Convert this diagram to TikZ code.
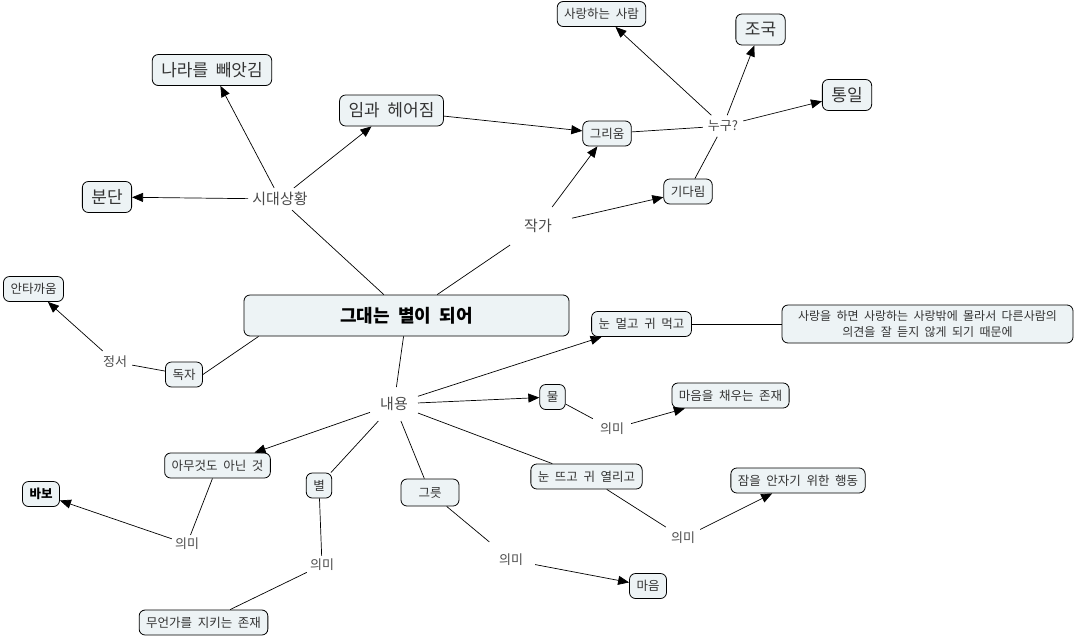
\documentclass[tikz,border=0pt]{standalone}
\usepackage{fontspec}
\setmainfont{Noto Sans CJK KR}[WordSpace=2]
\usepackage{xcolor}
\usetikzlibrary{arrows.meta}
\definecolor{boxfill}{HTML}{EDF3F5}
\definecolor{textdark}{HTML}{333333}
\definecolor{textgray}{HTML}{4A4A4A}

\tikzset{
    concept/.style={draw=black, line width=0.8pt, fill=boxfill, rounded corners=6pt,
        text=textdark, inner xsep=7pt, inner ysep=0pt, minimum height=25pt,
        font=\fontsize{12.5}{15}\selectfont},
    bigconcept/.style={concept, inner xsep=9pt, minimum height=31pt,
        font=\fontsize{17}{20}\selectfont},
    link/.style={text=textgray, inner sep=4pt, font=\fontsize{15}{18}\selectfont},
    smalllink/.style={link, inner sep=5pt, font=\fontsize{13}{16}\selectfont},
    conn/.style={line width=0.7pt},
    arr/.style={conn, -{Triangle[length=11pt,width=9pt]}}
}

\begin{document}
\begin{tikzpicture}[x=1pt, y=-1pt]
    \fill[white] (0,0) rectangle (1076,638);
    \useasboundingbox (0,0) rectangle (1076,638);

    \node[concept, minimum width=325pt, minimum height=41pt, text=black,
        font=\fontsize{18}{20}\selectfont\bfseries] (root) at (406.5,315.5) {그대는 별이 되어};

    \node[link] (era) at (280,199) {시대상황};
    \node[bigconcept] (nation) at (212,70) {나라를 빼앗김};
    \node[bigconcept] (division) at (107,197) {분단};
    \node[bigconcept] (parting) at (391.5,110.5) {임과 헤어짐};

    \node[link, inner xsep=20pt, inner ysep=12pt] (writer) at (538,226) {작가};
    \node[concept] (longing) at (607,133.5) {그리움};
    \node[concept] (waiting) at (688,191.5) {기다림};
    \node[smalllink] (who) at (723,126) {누구?};
    \node[concept] (lover) at (601.5,14) {사랑하는 사람};
    \node[bigconcept] (homeland) at (760.5,29.5) {조국};
    \node[bigconcept] (unity) at (847,95) {통일};

    \node[concept] (reader) at (184,374.5) {독자};
    \node[smalllink] (mood) at (115,362) {정서};
    \node[concept] (pity) at (33.5,289) {안타까움};

    \node[link, inner sep=10pt] (content) at (394,404) {내용};
    \node[concept] (blind) at (641.5,324) {눈 멀고 귀 먹고};
    \node[concept, align=center, minimum width=291pt, minimum height=38pt,
        font=\fontsize{12}{16}\selectfont] (note) at (927.5,324)
        {사랑을 하면 사랑하는 사랑밖에 몰라서 다른사람의\\의견을 잘 듣지 않게 되기 때문에};
    \node[concept] (water) at (552.5,397) {물};
    \node[smalllink, inner sep=7pt] (meanwater) at (612,429) {의미};
    \node[concept] (filling) at (730.5,395.5) {마음을 채우는 존재};
    \node[concept] (nothing) at (217.5,465.5) {아무것도 아닌 것};
    \node[smalllink, inner sep=3pt] (meannothing) at (187,544) {의미};
    \node[concept, font=\fontsize{12.5}{15}\selectfont\bfseries, text=black] (fool) at (41,494) {바보};
    \node[concept] (star) at (319,485.5) {별};
    \node[smalllink, inner sep=3pt] (meanstar) at (322,565) {의미};
    \node[concept] (guard) at (203.5,622.5) {무언가를 지키는 존재};
    \node[concept, minimum width=58pt, minimum height=27pt] (bowl) at (430,492.5) {그릇};
    \node[smalllink, inner sep=12pt] (meanbowl) at (511,560) {의미};
    \node[concept] (heart) at (648,586) {마음};
    \node[concept] (awake) at (586.5,476.5) {눈 뜨고 귀 열리고};
    \node[smalllink] (meanawake) at (683,538) {의미};
    \node[concept] (sleepless) at (798,480.5) {잠을 안자기 위한 행동};

    \draw[conn] (root) -- (era);
    \draw[arr] (era) -- (nation);
    \draw[arr] (era) -- (division);
    \draw[arr] (era) -- (parting);
    \draw[arr] (parting) -- (longing);

    \draw[conn] (root) -- (writer);
    \draw[arr] (writer) -- (longing);
    \draw[arr] (writer) -- (waiting);
    \draw[conn] (longing) -- (who);
    \draw[conn] (waiting) -- (who);
    \draw[arr] (who) -- (lover);
    \draw[arr] (who) -- (homeland);
    \draw[arr] (who) -- (unity);

    \draw[conn] ([xshift=15pt]root.south west) -- (reader.east);
    \draw[conn] (reader) -- (mood);
    \draw[arr] (mood) -- (pity);

    \draw[conn] (root) -- (content);
    \draw[arr] (content) -- (blind);
    \draw[conn] (blind) -- (note);
    \draw[arr] (content) -- (water);
    \draw[conn] (water) -- (meanwater);
    \draw[arr] (meanwater) -- (filling);
    \draw[arr] (content) -- (nothing);
    \draw[conn] (nothing) -- (meannothing);
    \draw[arr] (meannothing) -- (fool);
    \draw[conn] (content) -- (star);
    \draw[conn] (star) -- (meanstar);
    \draw[conn] (meanstar) -- (guard);
    \draw[conn] (content) -- (bowl);
    \draw[conn] (bowl) -- (meanbowl);
    \draw[arr] (meanbowl) -- (heart);
    \draw[conn] (content) -- (awake);
    \draw[conn] (awake) -- (meanawake);
    \draw[arr] (meanawake) -- (sleepless);
\end{tikzpicture}
\end{document}
